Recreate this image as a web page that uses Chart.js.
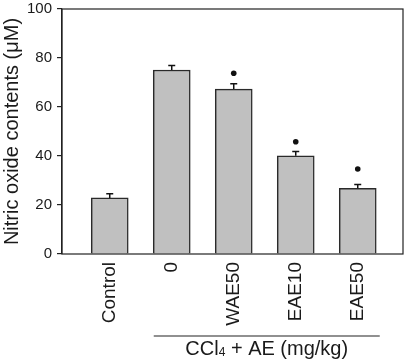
<!DOCTYPE html>
<html><head><meta charset="utf-8">
<script src="https://cdn.jsdelivr.net/npm/chart.js@4"></script>
<style>html,body{margin:0;padding:0;background:#fff}#w{width:406px;height:360px}</style>
</head><body><div id="w"><canvas id="c" width="406" height="360"></canvas></div>
<script>
const categories = ['Control', '0', 'WAE50', 'EAE10', 'EAE50'];
const means = [22.9, 75.1, 67.3, 40.1, 26.8];
const errors = [1.7, 1.8, 2.2, 1.7, 1.6];
const sigMarks = [null, null, 73.8, 45.8, 34.7];
const yTicks = [0, 20, 40, 60, 80, 100];
const yTitle = 'Nitric oxide contents (\u03bcM)';
const groupLabel = ['CCl', '4', ' + AE (mg/kg)'];
const FONT = "'Liberation Sans', Arial, sans-serif";

const extras = {
  id: 'extras',
  afterDatasetsDraw(chart) {
    const ctx = chart.ctx, xs = chart.scales.x, ys = chart.scales.y, a = chart.chartArea;
    ctx.save();
    ctx.strokeStyle = '#111'; ctx.lineWidth = 1.5;
    means.forEach((m, i) => {
      const x = xs.getPixelForValue(i + 1);
      const y0 = ys.getPixelForValue(m), y1 = ys.getPixelForValue(m + errors[i]);
      ctx.beginPath(); ctx.moveTo(x, y0); ctx.lineTo(x, y1);
      ctx.moveTo(x - 3.5, y1); ctx.lineTo(x + 3.5, y1); ctx.stroke();
    });
    ctx.fillStyle = '#111';
    sigMarks.forEach((s, i) => {
      if (s == null) return;
      const x = xs.getPixelForValue(i + 1), y = ys.getPixelForValue(s);
      ctx.beginPath(); ctx.arc(x, y, 2.8, 0, Math.PI * 2); ctx.fill();
    });
    ctx.strokeStyle = '#222'; ctx.lineWidth = 1.2;
    ctx.strokeRect(a.left, a.top, a.right - a.left, a.bottom - a.top);
    const gx0 = xs.getPixelForValue(2) - 18, gx1 = xs.getPixelForValue(5) + 22;
    ctx.beginPath(); ctx.moveTo(gx0, 336); ctx.lineTo(gx1, 336); ctx.stroke();
    ctx.fillStyle = '#1a1a1a';
    ctx.textBaseline = 'alphabetic';
    const big = '20px ' + FONT, small = '12px ' + FONT;
    ctx.font = big; const w0 = ctx.measureText(groupLabel[0]).width;
    ctx.font = small; const w1 = ctx.measureText(groupLabel[1]).width;
    ctx.font = big; const w2 = ctx.measureText(groupLabel[2]).width;
    let x = (gx0 + gx1) / 2 - (w0 + w1 + w2) / 2;
    const base = 355;
    ctx.font = big; ctx.fillText(groupLabel[0], x, base); x += w0;
    ctx.font = small; ctx.fillText(groupLabel[1], x, base + 1); x += w1;
    ctx.font = big; ctx.fillText(groupLabel[2], x, base);
    ctx.restore();
  }
};

new Chart(document.getElementById('c'), {
  type: 'bar',
  data: {
    datasets: [{
      data: means.map((v, i) => ({ x: i + 1, y: v })),
      backgroundColor: '#c0c0c0',
      borderColor: '#2a2a2a',
      borderWidth: 1.5,
      barThickness: 37
    }]
  },
  plugins: [extras],
  options: {
    responsive: false,
    animation: false,
    layout: { padding: { top: 0, right: 3, left: 0, bottom: 0 } },
    plugins: { legend: { display: false }, tooltip: { enabled: false } },
    scales: {
      x: {
        type: 'linear', min: 0.23, max: 5.73, offset: false,
        afterBuildTicks: s => { s.ticks = categories.map((_, i) => ({ value: i + 1 })); },
        afterFit: s => { s.height = 106; s.paddingLeft = 0; s.paddingRight = 0; },
        grid: { display: false },
        border: { display: false },
        ticks: {
          autoSkip: false, maxRotation: 90, minRotation: 90, padding: 0,
          color: '#1a1a1a', font: { family: FONT, size: 19 },
          callback: v => categories[v - 1]
        }
      },
      y: {
        min: 0, max: 100,
        afterBuildTicks: s => { s.ticks = yTicks.map(v => ({ value: v })); },
        afterFit: s => { s.width = 62; s.paddingTop = 9; s.paddingBottom = 0; },
        grid: { drawOnChartArea: false, drawTicks: true, tickLength: 5, color: '#222', lineWidth: 1.2 },
        border: { display: true, color: '#222', width: 1.2 },
        ticks: { padding: 5, color: '#1a1a1a', font: { family: FONT, size: 15 } },
        title: { display: true, text: yTitle, color: '#1a1a1a', font: { family: FONT, size: 20 }, padding: { top: 0, bottom: 0 } }
      }
    }
  }
});
</script>
</body></html>
